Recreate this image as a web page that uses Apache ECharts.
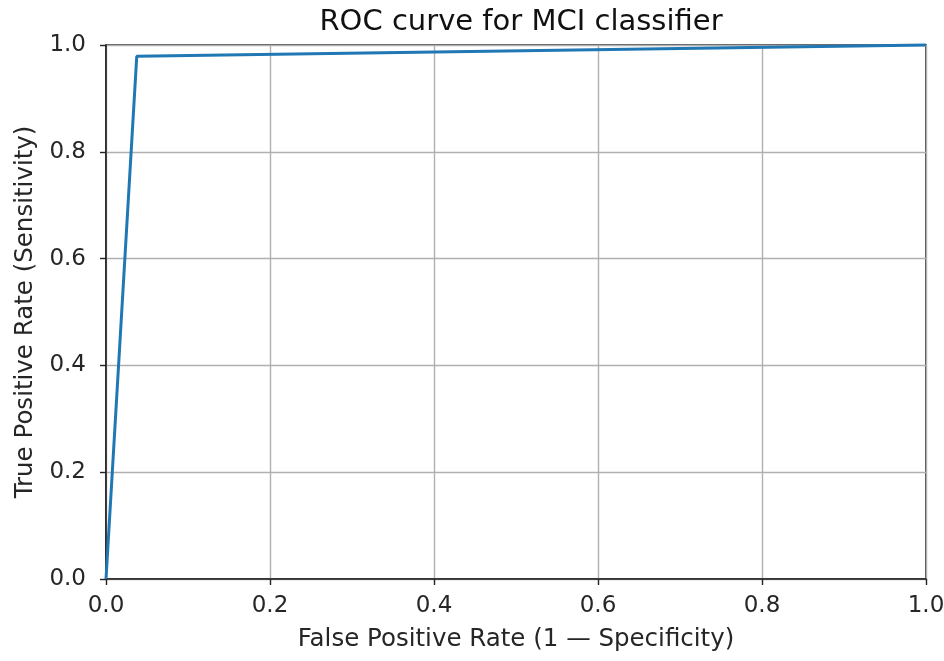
<!DOCTYPE html>
<html>
<head>
<meta charset="utf-8">
<script src="https://cdn.jsdelivr.net/npm/echarts@6/dist/echarts.min.js"></script>
<style>
  html, body { margin: 0; padding: 0; background: #fff; }
  #chart { width: 944px; height: 661px; }
</style>
</head>
<body>
<div id="chart"></div>
<script>
// ROC points
const fpr = [0.0, 0.0375, 1.0];
const tpr = [0.0, 0.979, 1.0];
const tickValues = [0, 0.2, 0.4, 0.6, 0.8, 1.0];

const chart = echarts.init(document.getElementById('chart'));

const axisCommon = {
  type: 'value',
  min: 0,
  max: 1,
  interval: 0.2,
  axisLine: { show: true, onZero: false, lineStyle: { color: '#222', width: 1.6 } },
  axisTick: { show: true, length: 6, lineStyle: { color: '#222', width: 1.4 } },
  splitLine: { show: true, lineStyle: { color: '#b0b0b0', width: 1.4 } },
  axisLabel: {
    color: '#262626',
    fontSize: 23,
    fontFamily: 'DejaVu Sans',
    formatter: v => v.toFixed(1)
  },
  nameLocation: 'middle',
  nameTextStyle: { color: '#262626', fontSize: 24.5, fontFamily: 'DejaVu Sans' }
};

const option = {
  animation: false,
  title: {
    text: 'ROC curve for MCI classifier',
    left: 516,
    top: 3,
    textAlign: 'center',
    textStyle: { color: '#111', fontSize: 29, fontWeight: 'normal', fontFamily: 'DejaVu Sans' }
  },
  grid: {
    left: 106, right: 18, top: 45, bottom: 82,
    outerBoundsMode: 'none',
    show: true, borderColor: '#222', borderWidth: 1.6
  },
  xAxis: Object.assign({}, axisCommon, {
    name: 'False Positive Rate (1 — Specificity)',
    nameGap: 48,
    axisLabel: Object.assign({}, axisCommon.axisLabel, { margin: 16 })
  }),
  yAxis: Object.assign({}, axisCommon, {
    name: 'True Positive Rate (Sensitivity)',
    nameGap: 66,
    axisLabel: Object.assign({}, axisCommon.axisLabel, { margin: 20 })
  }),
  series: [{
    type: 'line',
    data: fpr.map((x, i) => [x, tpr[i]]),
    showSymbol: false,
    lineStyle: { color: '#1f77b4', width: 3 },
    clip: false
  }]
};

chart.setOption(option);
</script>
</body>
</html>
